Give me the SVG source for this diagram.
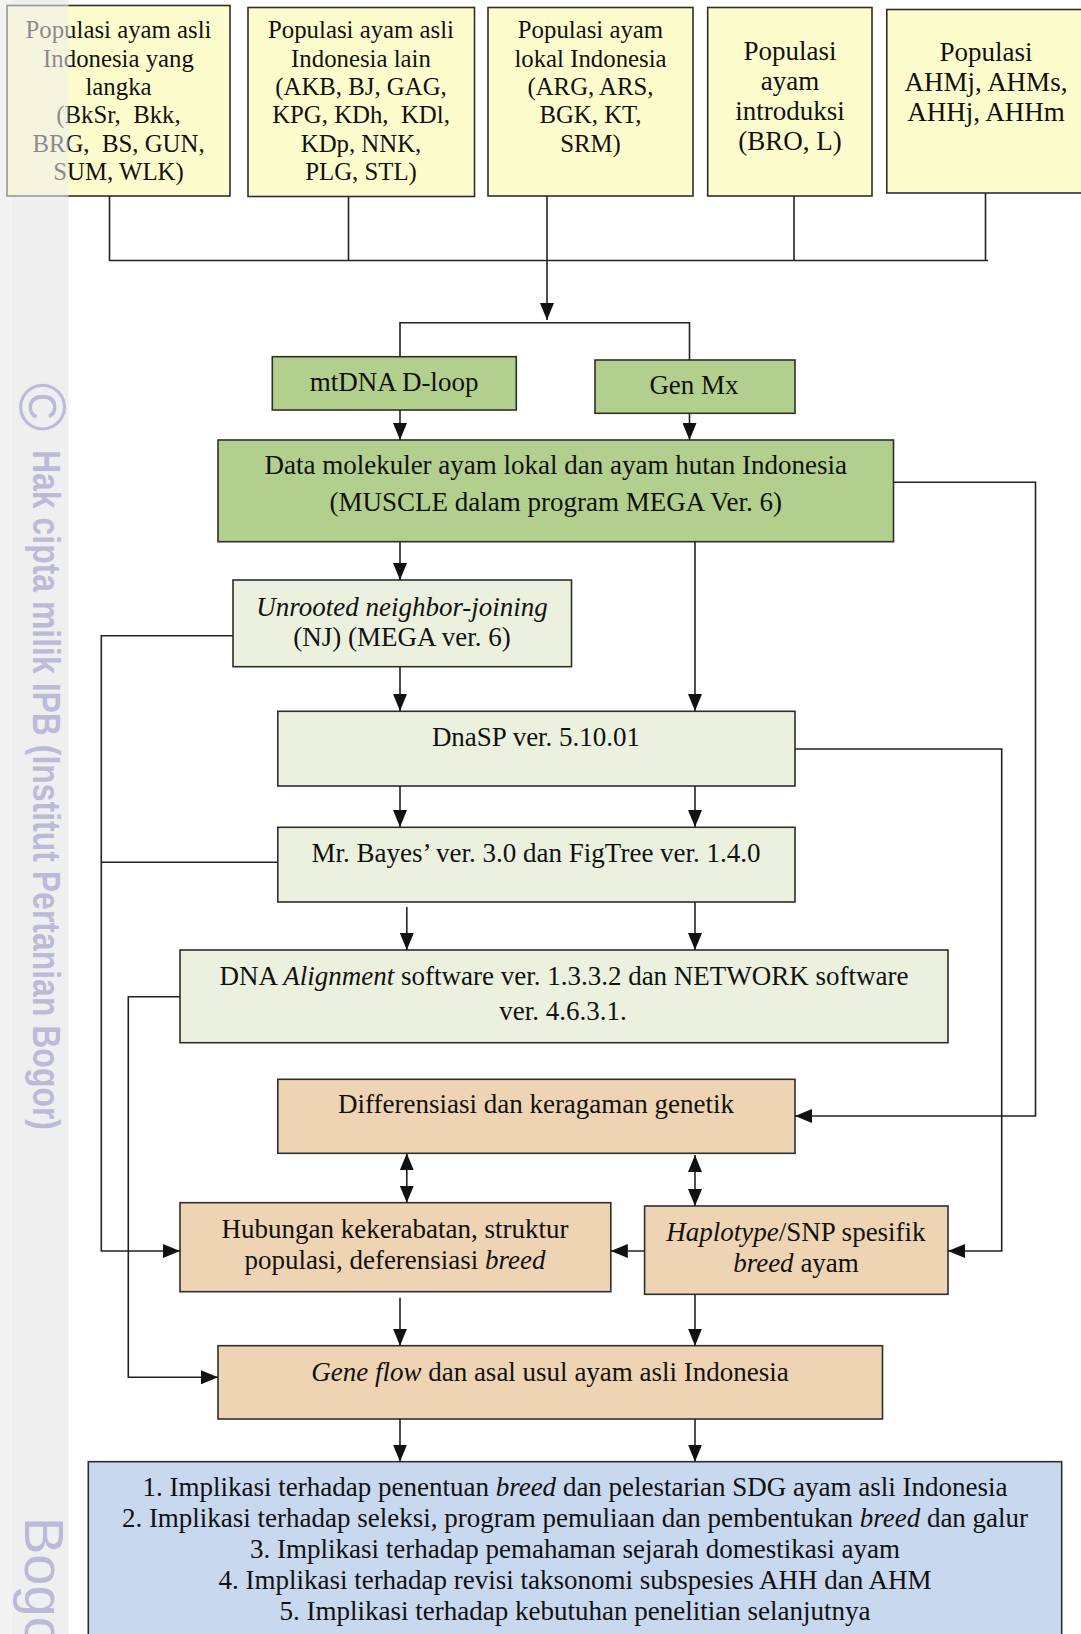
<svg xmlns="http://www.w3.org/2000/svg" width="1081" height="1634" viewBox="0 0 1081 1634">
  <style>
    .box { stroke: #2e2e2e; stroke-width: 1.6; }
    .pop { fill: #fdfccd; }
    .mol { fill: #b3cf8d; }
    .tool { fill: #ebf1de; }
    .res { fill: #efd4b4; }
    .imp { fill: #c8d8ef; }
    .t { font-family: "Liberation Serif", "Times New Roman", serif; fill: #111; text-anchor: middle; white-space: pre; }
    .s24 { font-size: 24.8px; }
    .s27 { font-size: 27px; }
    .it { font-style: italic; }
    .ln { fill: none; stroke: #222; stroke-width: 1.6; }
    .arr { marker-end: url(#head); }
    .dbl { marker-start: url(#head); marker-end: url(#head); }
    .wm { font-family: "Liberation Sans", Arial, sans-serif; fill: #bbbbd9; }
  </style>
  <defs>
    <marker id="head" markerUnits="userSpaceOnUse" markerWidth="18" markerHeight="14" refX="17" refY="7" orient="auto-start-reverse">
      <path d="M0,0 L17,7 L0,14 z" fill="#111"/>
    </marker>
  </defs>

  <rect x="0" y="0" width="1081" height="1634" fill="#ffffff"/>
  <!-- side band behind the page content -->
  <rect x="0" y="0" width="12" height="1634" fill="#f8f8f8"/>
  <rect x="12" y="0" width="56.5" height="1634" fill="#efefef"/>

  <!-- source populations -->
  <g id="pop-langka">
    <rect class="box pop" x="7" y="5.5" width="223" height="190.5"/>
    <text class="t s24" x="118.5" y="38">Populasi ayam asli</text>
    <text class="t s24" x="118.5" y="66.5">Indonesia yang</text>
    <text class="t s24" x="118.5" y="95">langka</text>
    <text class="t s24" x="118.5" y="123">(BkSr,  Bkk,</text>
    <text class="t s24" x="118.5" y="151.5">BRG,  BS, GUN,</text>
    <text class="t s24" x="118.5" y="180">SUM, WLK)</text>
  </g>
  <g id="pop-lain">
    <rect class="box pop" x="248" y="7.5" width="226.5" height="189"/>
    <text class="t s24" x="361" y="38">Populasi ayam asli</text>
    <text class="t s24" x="361" y="66.5">Indonesia lain</text>
    <text class="t s24" x="361" y="95">(AKB, BJ, GAG,</text>
    <text class="t s24" x="361" y="123">KPG, KDh,  KDl,</text>
    <text class="t s24" x="361" y="151.5">KDp, NNK,</text>
    <text class="t s24" x="361" y="180">PLG, STL)</text>
  </g>
  <g id="pop-lokal">
    <rect class="box pop" x="488" y="7.5" width="205" height="188.5"/>
    <text class="t s24" x="590.5" y="38">Populasi ayam</text>
    <text class="t s24" x="590.5" y="66.5">lokal Indonesia</text>
    <text class="t s24" x="590.5" y="95">(ARG, ARS,</text>
    <text class="t s24" x="590.5" y="123">BGK, KT,</text>
    <text class="t s24" x="590.5" y="151.5">SRM)</text>
  </g>
  <g id="pop-introduksi">
    <rect class="box pop" x="707.7" y="7.5" width="164.3" height="188.5"/>
    <text class="t s27" x="790" y="60">Populasi</text>
    <text class="t s27" x="790" y="90">ayam</text>
    <text class="t s27" x="790" y="120">introduksi</text>
    <text class="t s27" x="790" y="150">(BRO, L)</text>
  </g>
  <g id="pop-hutan">
    <rect class="box pop" x="886.8" y="9.5" width="200" height="183.5"/>
    <text class="t s27" x="986" y="60.5">Populasi</text>
    <text class="t s27" x="986" y="90.5">AHMj, AHMs,</text>
    <text class="t s27" x="986" y="120.5">AHHj, AHHm</text>
  </g>

  <!-- markers -->
  <g id="mtdna">
    <rect class="box mol" x="272.3" y="356.7" width="244" height="53.3"/>
    <text class="t s27" x="394" y="390.5">mtDNA D-loop</text>
  </g>
  <g id="genmx">
    <rect class="box mol" x="595" y="360" width="200" height="53.3"/>
    <text class="t s27" x="694" y="393.5">Gen Mx</text>
  </g>
  <g id="data">
    <rect class="box mol" x="218" y="440" width="675.5" height="101.7"/>
    <text class="t s27" x="555.7" y="474">Data molekuler ayam lokal dan ayam hutan Indonesia</text>
    <text class="t s27" x="555.7" y="510.5">(MUSCLE dalam program MEGA Ver. 6)</text>
  </g>

  <!-- analysis software -->
  <g id="nj">
    <rect class="box tool" x="233" y="580" width="338.5" height="86.7"/>
    <text class="t s27 it" x="402" y="615.5">Unrooted neighbor-joining</text>
    <text class="t s27" x="402" y="645.5">(NJ) (MEGA ver. 6)</text>
  </g>
  <g id="dnasp">
    <rect class="box tool" x="277.8" y="711.3" width="517.2" height="74.7"/>
    <text class="t s27" x="536" y="745.5">DnaSP ver. 5.10.01</text>
  </g>
  <g id="mrbayes">
    <rect class="box tool" x="277.8" y="827.3" width="517.2" height="74.7"/>
    <text class="t s27" x="536" y="861.5">Mr. Bayes’ ver. 3.0 dan FigTree ver. 1.4.0</text>
  </g>
  <g id="network">
    <rect class="box tool" x="180" y="950" width="768" height="92.7"/>
    <text class="t s27" x="564" y="985">DNA <tspan class="it">Alignment</tspan> software ver. 1.3.3.2 dan NETWORK software</text>
    <text class="t s27" x="563" y="1020">ver. 4.6.3.1.</text>
  </g>

  <!-- results -->
  <g id="differensiasi">
    <rect class="box res" x="277.8" y="1079.3" width="517.2" height="74"/>
    <text class="t s27" x="536" y="1112.5">Differensiasi dan keragaman genetik</text>
  </g>
  <g id="hubungan">
    <rect class="box res" x="180" y="1202.7" width="430.8" height="89"/>
    <text class="t s27" x="395" y="1237.5">Hubungan kekerabatan, struktur</text>
    <text class="t s27" x="395" y="1269">populasi, deferensiasi <tspan class="it">breed</tspan></text>
  </g>
  <g id="haplotype">
    <rect class="box res" x="644.6" y="1206" width="303.4" height="88.3"/>
    <text class="t s27" x="796" y="1240.5"><tspan class="it">Haplotype</tspan>/SNP spesifik</text>
    <text class="t s27" x="796" y="1271.5"><tspan class="it">breed</tspan> ayam</text>
  </g>
  <g id="geneflow">
    <rect class="box res" x="218" y="1345.7" width="664.5" height="73.3"/>
    <text class="t s27" x="550" y="1380.5"><tspan class="it">Gene flow</tspan> dan asal usul ayam asli Indonesia</text>
  </g>

  <!-- implications -->
  <g id="implikasi">
    <rect class="box imp" x="88.3" y="1461.7" width="973.4" height="190"/>
    <text class="t s27" x="575" y="1496">1. Implikasi terhadap penentuan <tspan class="it">breed</tspan> dan pelestarian SDG ayam asli Indonesia</text>
    <text class="t s27" x="575" y="1527">2. Implikasi terhadap seleksi, program pemuliaan dan pembentukan <tspan class="it">breed</tspan> dan galur</text>
    <text class="t s27" x="575" y="1558">3. Implikasi terhadap pemahaman sejarah domestikasi ayam</text>
    <text class="t s27" x="575" y="1589">4. Implikasi terhadap revisi taksonomi subspesies AHH dan AHM</text>
    <text class="t s27" x="575" y="1620">5. Implikasi terhadap kebutuhan penelitian selanjutnya</text>
  </g>

  <g id="connectors">
    <!-- populations merge -->
    <path class="ln" d="M109.5,196 V261 M348.5,196.5 V261 M794,196 V261 M985.5,193 V261 M109.5,260.5 H988"/>
    <path class="ln arr" d="M547,196 V320"/>
    <path class="ln" d="M400,356.7 V322.7 H689.5 V360"/>
    <path class="ln arr" d="M400,410 V440"/>
    <path class="ln arr" d="M689.5,413.3 V440"/>
    <!-- data to software -->
    <path class="ln arr" d="M400,541.7 V580"/>
    <path class="ln arr" d="M695,541.7 V711"/>
    <path class="ln arr" d="M400,666.7 V711"/>
    <path class="ln arr" d="M400,786 V827"/>
    <path class="ln arr" d="M695,786 V827"/>
    <path class="ln arr" d="M406.8,907 V950"/>
    <path class="ln arr" d="M695,902 V950"/>
    <!-- side routes -->
    <path class="ln arr" d="M893.5,482.3 H1035.5 V1116 H795"/>
    <path class="ln arr" d="M795,749 H1001.7 V1251 H948"/>
    <path class="ln arr" d="M233,635.7 H101.3 V1251 H180"/>
    <path class="ln" d="M277.8,862.3 H101.3"/>
    <path class="ln arr" d="M180,996.7 H128.3 V1377.3 H218"/>
    <!-- results -->
    <path class="ln dbl" d="M406.8,1153.3 V1202.7"/>
    <path class="ln dbl" d="M695,1155 V1206"/>
    <path class="ln arr" d="M644.6,1251 H610.8"/>
    <path class="ln arr" d="M400,1297.7 V1345.7"/>
    <path class="ln arr" d="M695,1294.3 V1345.7"/>
    <path class="ln arr" d="M400,1419 V1461.7"/>
    <path class="ln arr" d="M695,1419 V1461.7"/>
  </g>

  <!-- side band veil and copyright notice -->
  <rect x="0" y="0" width="68.5" height="1634" fill="#efefef" fill-opacity="0.55"/>
  <g transform="translate(43.5,407) rotate(90)">
    <text class="wm" x="0" y="24" font-size="66" text-anchor="middle">©</text>
  </g>
  <g transform="translate(33,450) rotate(90)">
    <text class="wm" x="0" y="0" font-size="39" font-weight="bold" textLength="680" lengthAdjust="spacingAndGlyphs">Hak cipta milik IPB (Institut Pertanian Bogor)</text>
  </g>
  <g transform="translate(25,1517) rotate(90)">
    <text class="wm" x="0" y="0" font-size="56" fill="#c3c3de">Bogo</text>
  </g>
</svg>
